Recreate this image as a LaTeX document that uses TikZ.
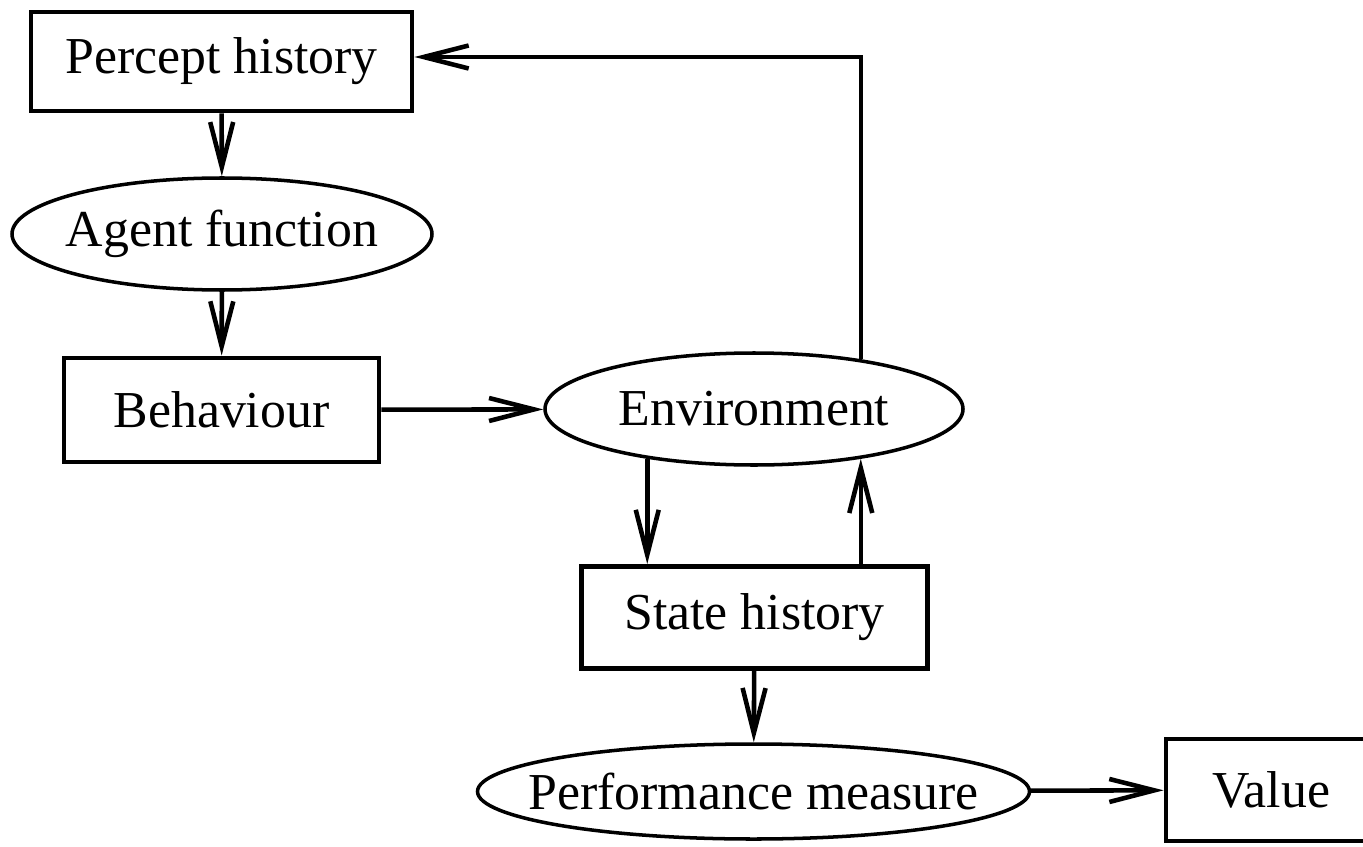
\documentclass[tikz,border=0pt]{standalone}
\usepackage{fontspec}
\setmainfont{Liberation Serif}
\usetikzlibrary{shapes.geometric, arrows.meta}

\begin{document}
\begin{tikzpicture}[
  font=\fontsize{29.5}{34}\selectfont,
  >={Straight Barb[length=9mm,width=4.6mm]},
  box/.style={draw, line width=2.8pt, inner sep=0pt},
  ellip/.style={draw, ellipse, line width=2pt, inner xsep=-0.8cm, inner ysep=0pt},
  flow/.style={->, line width=2.6pt}
]
\useasboundingbox (0,0) rectangle (27.26,-16.92);

% Nodes
\node[box, minimum width=7.62cm, minimum height=1.98cm] (percept) at (4.43,-1.23) {Percept history};
\node[ellip, minimum width=8.4cm, minimum height=2.24cm] (agent) at (4.44,-4.68) {Agent function};
\node[box, minimum width=6.3cm, minimum height=2.08cm] (behav) at (4.43,-8.2) {Behaviour};
\node[ellip, minimum width=8.36cm, minimum height=2.24cm] (env) at (15.08,-8.18) {Environment};
\node[box, minimum width=6.92cm, minimum height=2.04cm] (state) at (15.09,-12.35) {State history};
\node[ellip, minimum width=11.04cm, minimum height=1.9cm] (perf) at (15.07,-15.83) {Performance measure};
\node[box, minimum width=4.2cm, minimum height=2.04cm] (value) at (25.42,-15.8) {Value};

% Arrows
\draw[flow] (percept) -- (agent);
\draw[flow] (agent) -- (behav);
\draw[flow] (behav) -- (env);
\draw[flow] (env.205) -- (env.205 |- state.north);
\draw[flow] (env.335 |- state.north) -- (env.335);
\draw[flow] (env.25) |- ([yshift=0.09cm]percept.east);
\draw[flow] (state) -- (perf);
\draw[flow] (perf) -- (value);

\end{tikzpicture}
\end{document}
